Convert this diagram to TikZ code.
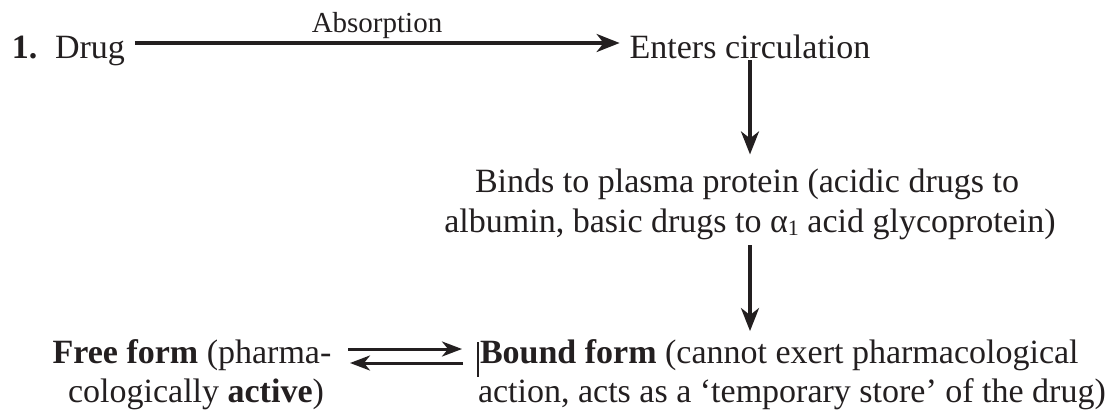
\documentclass[tikz,border=0pt]{standalone}
\usepackage{fontspec}
\setmainfont{Liberation Serif}
\usetikzlibrary{arrows.meta,calc}
\definecolor{ink}{HTML}{231F20}
\tikzset{
  txt/.style={inner sep=0pt, outer sep=0pt, text=ink, font=\fontsize{34}{40}\selectfont},
  small/.style={inner sep=0pt, outer sep=0pt, text=ink, font=\fontsize{29}{34}\selectfont},
  arr/.style={draw=ink, line width=3.4pt, -{Stealth[length=23pt,width=18pt,inset=7pt]}},
  eqarr/.style={draw=ink, line width=3pt, -{Stealth[length=20pt,width=15pt,inset=6pt]}},
}
\begin{document}
\begin{tikzpicture}[x=1pt,y=-1pt]
\path[use as bounding box, fill=white] (0,0) rectangle (1105,413);
% top row
\node[txt, anchor=base west] (num) at (12,58) {\textbf{1.}};
\node[txt, anchor=base west] (drug) at (55,58) {Drug};
\node[txt, anchor=base] (enters) at (750,58) {Enters circulation};
\node[small, anchor=base] (absorb) at (377,32) {Absorption};
% middle
\node[txt, anchor=base] (binds1) at (747,192) {Binds to plasma protein (acidic drugs to};
\node[txt, anchor=base] (binds2) at (750,232) {albumin, basic drugs to α\raisebox{-0.22ex}{\fontsize{22}{22}\selectfont 1} acid glycoprotein)};
% bottom
\node[txt, anchor=base] (free1) at (192,363) {\textbf{Free form} (pharma-};
\node[txt, anchor=base] (free2) at (196,402) {cologically \textbf{active})};
\node[txt, anchor=base west] (bound1) at (480,363) {\textbf{Bound form} (cannot exert pharmacological};
\node[txt, anchor=base west] (bound2) at (478,402) {action, acts as a ‘temporary store’ of the drug)};
% connectors
\draw[arr] ($(drug.base east)+(10,-15)$) -- ($(enters.base west)+(-10,-15)$);
\draw[arr] ([yshift=-2pt]enters.south) -- ([yshift=14pt]binds1.north -| enters.south);
\draw[arr] ([yshift=-6pt]binds2.south -| enters.south) -- ([yshift=8pt]bound1.north -| enters.south);
\draw[eqarr] ($(bound1.base west)+(-132,-14)$) -- ($(bound1.base west)+(-18,-14)$);
\draw[eqarr] ($(bound1.base west)+(-17,0)$) -- ($(bound1.base west)+(-130,0)$);
% text cursor mark before "Bound"
\draw[ink, line width=1.2pt] ($(bound1.base west)+(-2,-21)$) -- ($(bound1.base west)+(-2,14)$);
\end{tikzpicture}
\end{document}
